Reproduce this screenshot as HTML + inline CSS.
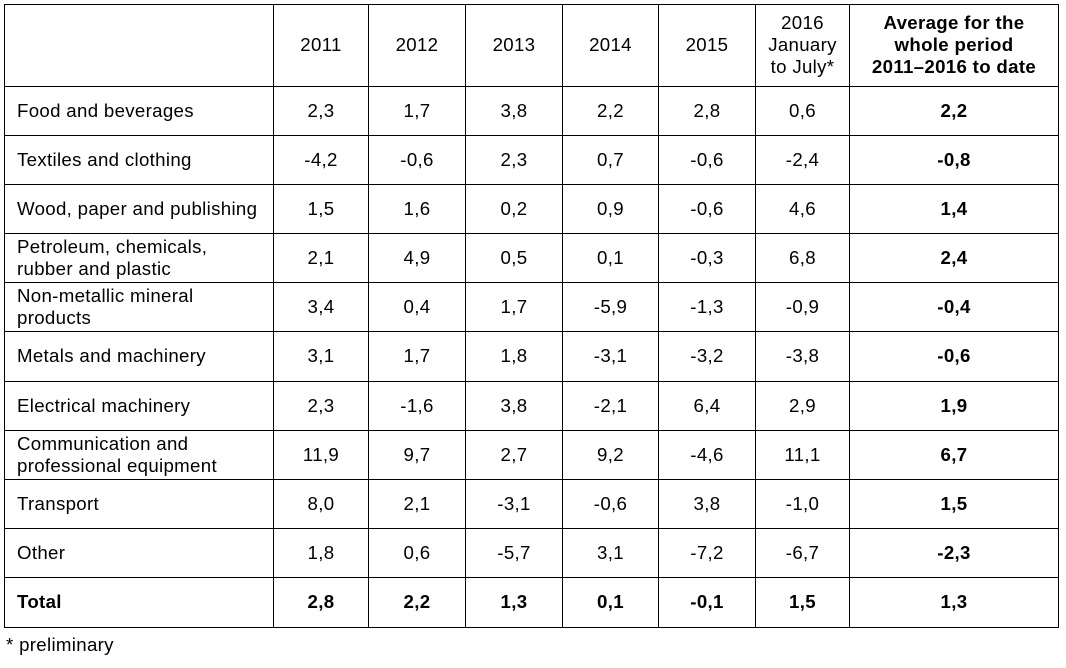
<!DOCTYPE html>
<html>
<head>
<meta charset="utf-8">
<style>
html,body{margin:0;padding:0;background:#fff;}
body{width:1066px;height:668px;position:relative;overflow:hidden;font-family:"Liberation Sans",Arial,sans-serif;font-size:18.67px;color:#000;letter-spacing:0.32px;}
.g{position:absolute;left:4px;top:4px;display:grid;
grid-template-columns:269px 95px 97px 97px 96px 97px 94px 209px;
grid-template-rows:82px 49px 49px 49px 49px 49px 50px 49px 49px 49px 49px 50px;
border-left:1px solid #000;border-top:1px solid #000;}
.g>div{box-sizing:border-box;border-right:1px solid #000;border-bottom:1px solid #000;display:flex;align-items:center;justify-content:center;text-align:center;padding-bottom:1px;line-height:normal;white-space:nowrap;}
.g>div.l{justify-content:flex-start;text-align:left;padding-left:12px;}
.b{font-weight:bold;}
.fn{position:absolute;left:6px;top:634px;line-height:normal;}
</style>
</head>
<body>
<div class="g">
<div class="l"></div><div>2011</div><div>2012</div><div>2013</div><div>2014</div><div>2015</div><div>2016<br>January<br>to July*</div><div class="b">Average for the<br>whole period<br>2011–2016 to date</div>

<div class="l">Food and beverages</div><div>2,3</div><div>1,7</div><div>3,8</div><div>2,2</div><div>2,8</div><div>0,6</div><div class="b">2,2</div>

<div class="l">Textiles and clothing</div><div>-4,2</div><div>-0,6</div><div>2,3</div><div>0,7</div><div>-0,6</div><div>-2,4</div><div class="b">-0,8</div>

<div class="l">Wood, paper and publishing</div><div>1,5</div><div>1,6</div><div>0,2</div><div>0,9</div><div>-0,6</div><div>4,6</div><div class="b">1,4</div>

<div class="l">Petroleum, chemicals,<br>rubber and plastic</div><div>2,1</div><div>4,9</div><div>0,5</div><div>0,1</div><div>-0,3</div><div>6,8</div><div class="b">2,4</div>

<div class="l">Non-metallic mineral<br>products</div><div>3,4</div><div>0,4</div><div>1,7</div><div>-5,9</div><div>-1,3</div><div>-0,9</div><div class="b">-0,4</div>

<div class="l">Metals and machinery</div><div>3,1</div><div>1,7</div><div>1,8</div><div>-3,1</div><div>-3,2</div><div>-3,8</div><div class="b">-0,6</div>

<div class="l">Electrical machinery</div><div>2,3</div><div>-1,6</div><div>3,8</div><div>-2,1</div><div>6,4</div><div>2,9</div><div class="b">1,9</div>

<div class="l">Communication and<br>professional equipment</div><div>11,9</div><div>9,7</div><div>2,7</div><div>9,2</div><div>-4,6</div><div>11,1</div><div class="b">6,7</div>

<div class="l">Transport</div><div>8,0</div><div>2,1</div><div>-3,1</div><div>-0,6</div><div>3,8</div><div>-1,0</div><div class="b">1,5</div>

<div class="l">Other</div><div>1,8</div><div>0,6</div><div>-5,7</div><div>3,1</div><div>-7,2</div><div>-6,7</div><div class="b">-2,3</div>

<div class="l b">Total</div><div class="b">2,8</div><div class="b">2,2</div><div class="b">1,3</div><div class="b">0,1</div><div class="b">-0,1</div><div class="b">1,5</div><div class="b">1,3</div>
</div>
<div class="fn">* preliminary</div>
</body>
</html>
